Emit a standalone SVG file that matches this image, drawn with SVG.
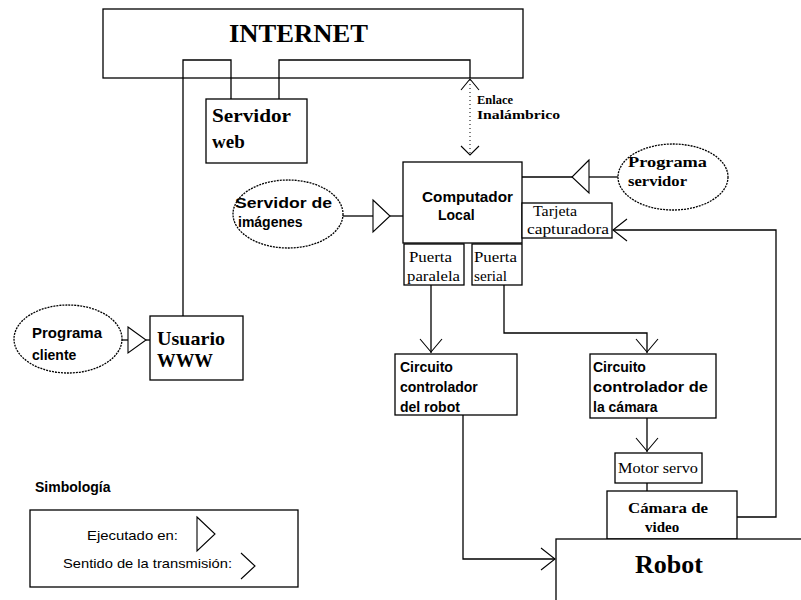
<svg xmlns="http://www.w3.org/2000/svg" width="801" height="600" viewBox="0 0 801 600">
<style>
.box{fill:#fff;stroke:#000;stroke-width:1.3}
.ln{fill:none;stroke:#000;stroke-width:1.3}
.tri{fill:#fff;stroke:#000;stroke-width:1.1}
.chev{fill:none;stroke:#000;stroke-width:1.1}
.ser{font-family:"Liberation Serif","Times New Roman",serif;font-weight:bold;fill:#000}
.serr{font-family:"Liberation Serif","Times New Roman",serif;font-size:14px;fill:#000}
.sans{font-family:"Liberation Sans",Arial,sans-serif;font-weight:bold;font-size:14px;fill:#000}
.sansr{font-family:"Liberation Sans",Arial,sans-serif;font-size:13px;fill:#000}
</style>
<rect width="801" height="600" fill="#fff"/>
<g id="internet"><rect class="box" x="103" y="9" width="420" height="69"/><text class="ser" x="229" y="42" font-size="26" textLength="139" lengthAdjust="spacingAndGlyphs">INTERNET</text></g>
<g id="servidor-web"><rect class="box" x="206" y="99" width="101" height="64"/><text class="ser" x="212" y="122" font-size="19" textLength="79" lengthAdjust="spacingAndGlyphs">Servidor</text><text class="ser" x="212" y="148" font-size="19">web</text></g>
<g id="enlace"><text class="ser" x="477" y="104" font-size="12" textLength="36" lengthAdjust="spacingAndGlyphs">Enlace</text><text class="ser" x="477" y="119" font-size="12" textLength="83" lengthAdjust="spacingAndGlyphs">Inalámbrico</text></g>
<g id="computador"><rect class="box" x="403" y="162" width="119" height="81"/><text class="sans" x="422" y="202" font-size="15" textLength="91" lengthAdjust="spacingAndGlyphs">Computador</text><text class="sans" x="438" y="220" font-size="15">Local</text></g>
<g id="puerta-paralela"><rect class="box" x="404" y="244" width="60" height="41"/><text class="serr" x="409" y="262" textLength="43" lengthAdjust="spacingAndGlyphs">Puerta</text><text class="serr" x="407" y="281" textLength="53" lengthAdjust="spacingAndGlyphs">paralela</text></g>
<g id="puerta-serial"><rect class="box" x="472" y="244" width="50" height="41"/><text class="serr" x="474" y="262" textLength="43" lengthAdjust="spacingAndGlyphs">Puerta</text><text class="serr" x="474" y="281" textLength="33" lengthAdjust="spacingAndGlyphs">serial</text></g>
<g id="tarjeta"><rect class="box" x="522" y="203" width="90" height="35"/><text class="serr" x="533" y="216" textLength="44" lengthAdjust="spacingAndGlyphs">Tarjeta</text><text class="serr" x="527" y="234" textLength="82" lengthAdjust="spacingAndGlyphs">capturadora</text></g>
<g id="servidor-imagenes"><ellipse class="box" cx="288" cy="214" rx="55" ry="34" style="stroke-dasharray:2 1"/><text class="sans" x="235" y="208" textLength="97" lengthAdjust="spacingAndGlyphs">Servidor de</text><text class="sans" x="238" y="227">imágenes</text></g>
<g id="programa-servidor"><ellipse class="box" cx="673" cy="177" rx="55" ry="33" style="stroke-dasharray:2 1"/><text class="ser" x="628" y="167" font-size="15" textLength="79" lengthAdjust="spacingAndGlyphs">Programa</text><text class="ser" x="628" y="186" font-size="15" textLength="59" lengthAdjust="spacingAndGlyphs">servidor</text></g>
<g id="usuario"><rect class="box" x="150" y="316" width="93" height="64"/><text class="ser" x="157" y="345" font-size="19" textLength="68" lengthAdjust="spacingAndGlyphs">Usuario</text><text class="ser" x="157" y="367" font-size="19" textLength="56" lengthAdjust="spacingAndGlyphs">WWW</text></g>
<g id="programa-cliente"><ellipse class="box" cx="68" cy="339" rx="54" ry="34" style="stroke-dasharray:2 1"/><text class="sans" x="32" y="338" textLength="70" lengthAdjust="spacingAndGlyphs">Programa</text><text class="sans" x="32" y="360">cliente</text></g>
<g id="circuito-robot"><rect class="box" x="395" y="354" width="122" height="61"/><text class="sans" x="400" y="372">Circuito</text><text class="sans" x="400" y="392">controlador</text><text class="sans" x="400" y="412">del robot</text></g>
<g id="circuito-camara"><rect class="box" x="590" y="354" width="126" height="64"/><text class="sans" x="593" y="372">Circuito</text><text class="sans" x="593" y="392" textLength="115" lengthAdjust="spacingAndGlyphs">controlador de</text><text class="sans" x="593" y="412">la cámara</text></g>
<g id="motor-servo"><rect class="box" x="615" y="453" width="87" height="30"/><text class="serr" x="618" y="473" textLength="80" lengthAdjust="spacingAndGlyphs">Motor servo</text></g>
<g id="camara"><rect class="box" x="607" y="491" width="130" height="48"/><text class="ser" x="628" y="513" font-size="15" textLength="80" lengthAdjust="spacingAndGlyphs">Cámara de</text><text class="ser" x="645" y="532" font-size="15">video</text></g>
<g id="robot"><rect class="box" x="556" y="539" width="260" height="80"/><text class="ser" x="635" y="573" font-size="26" textLength="68" lengthAdjust="spacingAndGlyphs">Robot</text></g>
<g id="connectors">
<polyline class="ln" points="183,316 183,60 231,60 231,99"/>
<polyline class="ln" points="279,99 279,60 470,60 470,78"/>
<line x1="470" y1="80" x2="470" y2="154" stroke="#000" stroke-width="1" stroke-dasharray="1 3"/>
<polyline class="chev" points="461,90 470,79 479,90"/>
<polyline class="chev" points="461,146 470,155 479,146"/>
<line class="ln" x1="343" y1="216" x2="373" y2="216"/>
<polygon class="tri" points="373,200 390,216 373,232"/>
<line class="ln" x1="390" y1="216" x2="403" y2="216"/>
<line class="ln" x1="522" y1="177" x2="572" y2="177"/>
<polygon class="tri" points="589,160 572,177 589,193"/>
<line class="ln" x1="589" y1="177" x2="618" y2="177"/>
<line class="ln" x1="122" y1="340" x2="128" y2="340"/>
<polygon class="tri" points="128,327 146,340 128,353"/>
<line class="ln" x1="146" y1="340" x2="150" y2="340"/>
<line class="ln" x1="431" y1="285" x2="431" y2="353"/>
<polyline class="chev" points="420,339 431,352 442,339"/>
<polyline class="ln" points="504,285 504,333 647,333 647,353"/>
<polyline class="chev" points="636,339 647,352 658,339"/>
<line class="ln" x1="647" y1="418" x2="647" y2="452"/>
<polyline class="chev" points="636,438 647,451 658,438"/>
<line class="ln" x1="647" y1="483" x2="647" y2="491"/>
<polyline class="ln" points="463,415 463,559 555,559"/>
<polyline class="chev" points="541,548 555,559 541,570"/>
<polyline class="ln" points="737,517 776,517 776,230 613,230"/>
<polyline class="chev" points="627,219 613,230 627,241"/>
</g>
<g id="legend">
<text class="sans" x="35" y="492">Simbología</text>
<rect class="box" x="30" y="510" width="268" height="77"/>
<text class="sansr" x="87" y="540" textLength="91" lengthAdjust="spacingAndGlyphs">Ejecutado en:</text>
<polygon class="tri" points="197,517 215,534 197,551"/>
<text class="sansr" x="63" y="568" textLength="169" lengthAdjust="spacingAndGlyphs">Sentido de la transmisión:</text>
<polyline class="chev" points="241,553 255,566 241,579"/>
</g>
</svg>
